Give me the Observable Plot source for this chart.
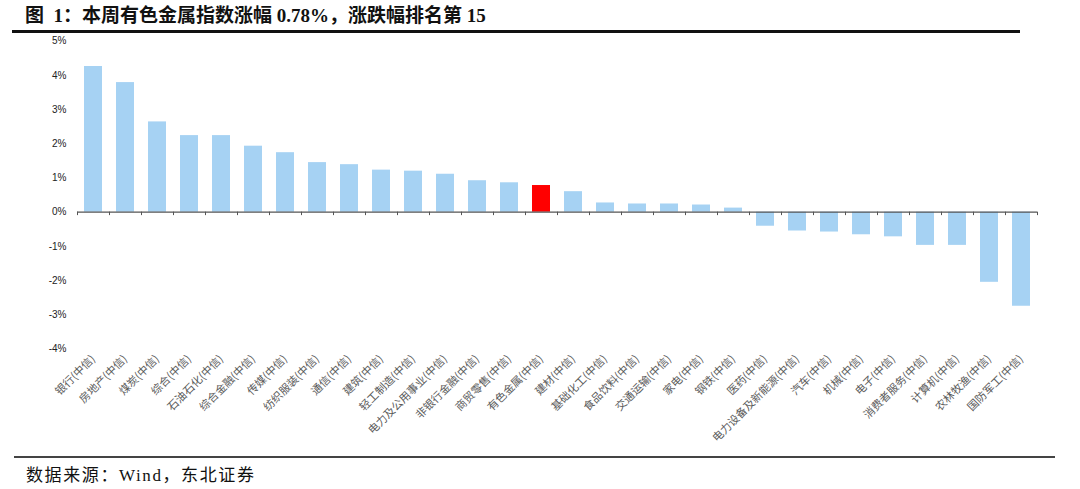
<!DOCTYPE html>
<html><head><meta charset="utf-8">
<script src="https://cdn.jsdelivr.net/npm/d3@7"></script>
<script src="https://cdn.jsdelivr.net/npm/@observablehq/plot@0.6"></script>
<style>
body{margin:0;width:1080px;height:489px;position:relative;background:#fff;overflow:hidden}
#title{position:absolute;left:25px;top:0px;font-weight:bold;font-size:19px;font-family:"Liberation Serif","Noto Sans CJK SC";color:#111;white-space:pre}
#rule1{position:absolute;left:12px;width:1008px;top:30px;height:2.5px;background:#111}
#chart{position:absolute;left:0;top:35px}
#rule2{position:absolute;left:14px;width:1041px;top:456px;height:1.5px;background:#444}
#caption{position:absolute;left:26px;top:461px;font-size:17px;letter-spacing:1.6px;font-family:"Liberation Serif","Noto Sans CJK SC";color:#111;white-space:pre}
</style>
</head><body>
<div id="title">图  1：本周有色金属指数涨幅 0.78%，涨跌幅排名第 15</div>
<div id="rule1"></div>
<div id="chart"></div>
<div id="rule2"></div>
<div id="caption">数据来源：Wind，东北证券</div>
<script>
const categories = ["银行(中信)","房地产(中信)","煤炭(中信)","综合(中信)","石油石化(中信)","综合金融(中信)","传媒(中信)","纺织服装(中信)","通信(中信)","建筑(中信)","轻工制造(中信)","电力及公用事业(中信)","非银行金融(中信)","商贸零售(中信)","有色金属(中信)","建材(中信)","基础化工(中信)","食品饮料(中信)","交通运输(中信)","家电(中信)","钢铁(中信)","医药(中信)","电力设备及新能源(中信)","汽车(中信)","机械(中信)","电子(中信)","消费者服务(中信)","计算机(中信)","农林牧渔(中信)","国防军工(中信)"];
const values = [4.26,3.79,2.64,2.24,2.24,1.93,1.74,1.45,1.39,1.23,1.20,1.11,0.92,0.86,0.78,0.60,0.27,0.24,0.24,0.21,0.12,-0.41,-0.55,-0.58,-0.66,-0.72,-0.97,-0.97,-2.05,-2.75];
const highlight = "有色金属(中信)";
const yTicks = [-4,-3,-2,-1,0,1,2,3,4,5];

const data = categories.map((c,i)=>({cat:c, val:values[i]}));
const plot = Plot.plot({
  width:1080, height:415,
  marginTop:5.7, marginBottom:101.5, marginLeft:77, marginRight:43,
  x:{domain:categories, paddingInner:0.43, paddingOuter:0.215, label:null},
  y:{domain:[-4,5], label:null},
  style:{fontFamily:"Arial, 'Liberation Sans', sans-serif", fontSize:"10px", background:"transparent"},
  marks:[
    Plot.axisY({ticks:yTicks, tickSize:0, tickPadding:11, tickFormat:d=>d+"%", fill:"#222", label:null}),
    Plot.axisX({tickSize:0, tickRotate:-45, tickPadding:8, fill:"#5a5a5a", fontSize:11, fontFamily:"'Noto Sans CJK SC', sans-serif", label:null, style:{letterSpacing:"0.5px"}}),
    Plot.barY(data,{x:"cat", y:"val", fill:d=>d.cat===highlight?"#ff0000":"#a6d2f3"}),
    Plot.ruleY([0],{stroke:"#555", strokeWidth:1.2}),
    Plot.ruleX(categories,{x:d=>d, y1:0, y2:-0.1, dx:-16, stroke:"#555"}),
    Plot.ruleX([categories[categories.length-1]],{x:d=>d, y1:0, y2:-0.1, dx:16, stroke:"#555"})
  ]
});
document.getElementById("chart").appendChild(plot);
</script>
</body></html>
